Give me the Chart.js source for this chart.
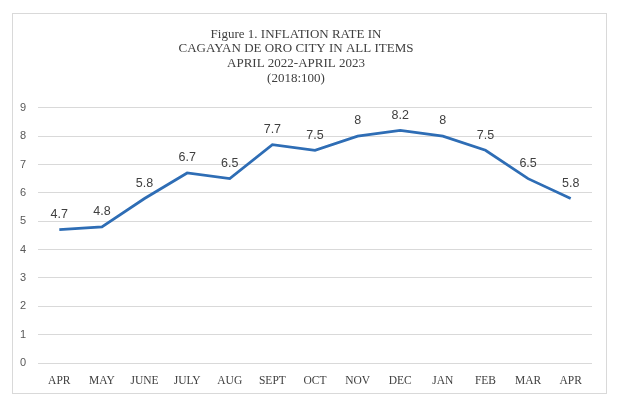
<!DOCTYPE html>
<html>
<head>
<meta charset="utf-8">
<script src="https://cdn.jsdelivr.net/npm/chart.js@4"></script>
<style>
  html, body { margin: 0; padding: 0; background: #fff; }
  #wrap { position: relative; width: 619px; height: 412px; }
  #frame { position: absolute; left: 12px; top: 13px; width: 595px; height: 381px; border: 1px solid #d9d9d9; box-sizing: border-box; }
  canvas { position: absolute; left: 0; top: 0; }
</style>
</head>
<body>
<div id="wrap">
  <div id="frame"></div>
  <canvas id="chart" width="619" height="412"></canvas>
</div>
<script>
const months = ['APR', 'MAY', 'JUNE', 'JULY', 'AUG', 'SEPT', 'OCT', 'NOV', 'DEC', 'JAN', 'FEB', 'MAR', 'APR'];
const inflation = [4.7, 4.8, 5.8, 6.7, 6.5, 7.7, 7.5, 8, 8.2, 8, 7.5, 6.5, 5.8];
const titleLines = ['Figure 1. INFLATION RATE IN', 'CAGAYAN DE ORO CITY IN ALL ITEMS', 'APRIL 2022-APRIL 2023', '(2018:100)'];

// labels above each point
const pointLabels = {
    id: 'pointLabels',
    afterDatasetsDraw(chart) {
        const ctx = chart.ctx;
        const meta = chart.getDatasetMeta(0);
        ctx.save();
        ctx.font = '12.5px "Liberation Sans", Arial, sans-serif';
        ctx.fillStyle = '#404040';
        ctx.textAlign = 'center';
        ctx.textBaseline = 'bottom';
        meta.data.forEach((pt, i) => {
            ctx.fillText(String(inflation[i]), pt.x, pt.y - 9);
        });
        ctx.restore();
    }
};

new Chart(document.getElementById('chart'), {
    type: 'line',
    data: {
        labels: months,
        datasets: [{
            data: inflation,
            borderColor: '#2e6db5',
            borderWidth: 2.75,
            pointRadius: 0,
            tension: 0,
            fill: false
        }]
    },
    options: {
        responsive: false,
        animation: false,
        layout: { padding: { left: 0, right: 27, top: 0, bottom: 22 } },
        plugins: {
            legend: { display: false },
            tooltip: { enabled: false },
            title: {
                display: true,
                text: titleLines,
                color: '#404040',
                font: { family: '"Liberation Serif", serif', size: 13, weight: 'normal', lineHeight: 1.13 },
                padding: { top: 27, bottom: 22 }
            }
        },
        scales: {
            x: {
                offset: true,
                grid: { display: false, offset: true },
                border: { display: false },
                ticks: {
                    color: '#404040',
                    font: { family: '"Liberation Serif", serif', size: 11.5 },
                    maxRotation: 0,
                    padding: 3
                },
                afterFit(scale) { scale.height = 27; }
            },
            y: {
                min: 0,
                max: 9,
                ticks: {
                    stepSize: 1,
                    color: '#595959',
                    font: { family: '"Liberation Sans", Arial, sans-serif', size: 11 },
                    padding: 12
                },
                grid: { color: '#d9d9d9', lineWidth: 1, drawTicks: false },
                border: { display: false },
                afterFit(scale) { scale.width = 38; }
            }
        }
    },
    plugins: [pointLabels]
});
</script>
</body>
</html>
